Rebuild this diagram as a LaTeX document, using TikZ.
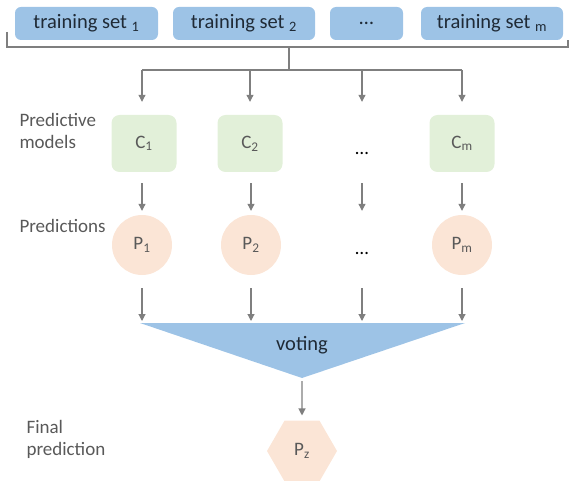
\documentclass[tikz,border=0pt]{standalone}
\usepackage{fontspec}
\setmainfont{Carlito}
\usetikzlibrary{arrows.meta,shapes.geometric}
\definecolor{setblue}{HTML}{9DC3E6}
\definecolor{modgreen}{HTML}{E2F0D9}
\definecolor{predpeach}{HTML}{FBE5D6}
\definecolor{linegray}{HTML}{7F7F7F}
\definecolor{txtgray}{HTML}{595959}
\definecolor{txtdark}{HTML}{1F2A36}
\begin{document}
\begin{tikzpicture}[x=1pt,y=-1pt,
  every node/.style={font=\fontsize{19}{22}\selectfont},
  setbox/.style={fill=setblue, rounded corners=6pt, minimum height=33pt, inner sep=0pt, text=txtdark, font=\fontsize{20.5}{22}\selectfont},
  model/.style={fill=modgreen, rounded corners=8pt, minimum width=65pt, minimum height=57pt, inner sep=0pt, text=txtgray},
  ghost/.style={minimum width=65pt, minimum height=57pt, inner sep=0pt, text=txtgray},
  pred/.style={circle, fill=predpeach, minimum size=60pt, inner sep=0pt, text=txtgray},
  ghostp/.style={circle, minimum size=60pt, inner sep=0pt, text=txtgray},
  arr/.style={draw=linegray, line width=1.1pt, -{Triangle[width=7pt,length=7pt]}},
  wire/.style={draw=linegray, line width=1.1pt},
  lab/.style={text=txtgray, align=left, anchor=west}]
\useasboundingbox (0,0) rectangle (570,481);

% training sets
\node[setbox, minimum width=143pt] (t1) at (86.5,23.5) {training set \textsubscript{1}};
\node[setbox, minimum width=142pt] (t2) at (244,23.5) {training set \textsubscript{2}};
\node[setbox, minimum width=73pt] (t3) at (366.5,23.5) {…};
\node[setbox, minimum width=142pt] (t4) at (492,23.5) {training set \textsubscript{m}};

% bracket
\coordinate (bl) at (7,32);
\coordinate (br) at (568,40);
\coordinate (bs) at (289,47);
\coordinate (bd) at (289,70);
\draw[wire] (bl) -- (7,47) -- (568,47) -- (br);
\draw[wire] (bs) -- (bd);

% models
\node[model] (c1) at (144,143.5) {C\textsubscript{1}};
\node[model] (c2) at (250,143.5) {C\textsubscript{2}};
\node[ghost] (c3) at (362,143.5) {};
\node at (362,153) {…};
\node[model] (c4) at (462,143.5) {C\textsubscript{m}};

% distribution line
\coordinate (dl) at (142,70);
\coordinate (dr) at (462,70);
\draw[wire] (dl) -- (dr);
\draw[arr] (dl) -- ([yshift=13pt]c1.north -| dl);
\draw[arr] (c2.north |- dl) -- ([yshift=13pt]c2.north);
\draw[arr] (c3.north |- dl) -- ([yshift=13pt]c3.north);
\draw[arr] (dr) -- ([yshift=13pt]c4.north);

% predictions
\node[pred] (p1) at (142,245) {P\textsubscript{1}};
\node[pred] (p2) at (251,245) {P\textsubscript{2}};
\node[ghostp] (p3) at (362,245) {};
\node at (362,253) {…};
\node[pred] (p4) at (462,245) {P\textsubscript{m}};

\draw[arr] ([yshift=-11pt]c1.south -| p1) -- ([yshift=4pt]p1.north);
\draw[arr] ([yshift=-11pt]c2.south -| p2) -- ([yshift=4pt]p2.north);
\draw[arr] ([yshift=-11pt]c3.south -| p3) -- ([yshift=4pt]p3.north);
\draw[arr] ([yshift=-11pt]c4.south -| p4) -- ([yshift=4pt]p4.north);

% voting triangle
\coordinate (vl) at (140,323);
\coordinate (vr) at (465,323);
\coordinate (va) at (302,378);
\fill[setblue] (vl) -- (vr) -- (va) -- cycle;
\node[text=txtdark, font=\fontsize{20.5}{22}\selectfont] (vote) at (302,345) {voting};
\foreach \p in {p1,p2,p3,p4}
  \draw[arr] ([yshift=-13pt]\p.south) -- ([yshift=2pt]\p |- vl);

% final prediction
\node[regular polygon, regular polygon sides=6, minimum size=70pt, inner sep=0pt, fill=predpeach, text=txtgray] (pz) at (302,451) {P\textsubscript{z}};
\draw[arr] ([yshift=-3pt]va) -- ([yshift=5pt]pz.north);

% labels
\node[lab] (lm) at (16,131) {Predictive\\models};
\node[lab] (lp) at (16,226) {Predictions};
\node[lab] (lf) at (23,439) {Final\\prediction};
\end{tikzpicture}
\end{document}
